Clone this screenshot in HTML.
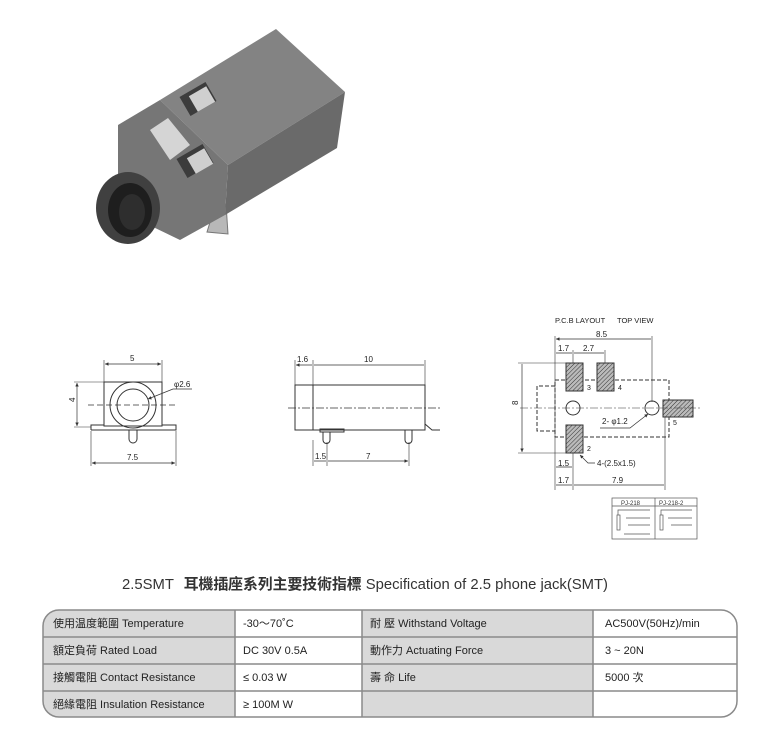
<!DOCTYPE html>
<html><head><meta charset="utf-8"><style>
body{margin:0;background:#fff;width:778px;height:739px;overflow:hidden;font-family:"Liberation Sans","Noto Sans CJK TC",sans-serif}
svg{position:absolute;left:0;top:0}
</style></head><body>
<svg width="778" height="739" viewBox="0 0 778 739" xmlns="http://www.w3.org/2000/svg" font-family="Liberation Sans, Noto Sans CJK TC, sans-serif">
<defs>
<pattern id="h" width="3" height="3" patternUnits="userSpaceOnUse" patternTransform="rotate(45)"><rect width="3" height="3" fill="#bbb"/><line x1="0" y1="0" x2="0" y2="3" stroke="#333" stroke-width="1"/></pattern>
<marker id="a" viewBox="0 0 6 6" refX="6" refY="3" markerWidth="5" markerHeight="5" orient="auto-start-reverse"><path d="M0,0L6,3L0,6z" fill="#333"/></marker>
</defs>
<!-- photo -->
<g>
<polygon points="207,232 215,206 226,204 228,234" fill="#b8b8b8" stroke="#777"/>
<polygon points="160,100 276,29 345,92 228,165" fill="#838383"/>
<polygon points="228,165 345,92 337,148 225,215" fill="#6a6a6a"/>
<polygon points="118,125 160,100 228,165 225,215 180,240 118,210" fill="#767676"/>
<polygon points="150,130 168,118 190,145 170,160" fill="#d5d5d5"/>
<rect x="183" y="88" width="30" height="22" fill="#3c3c3c" transform="rotate(-30 198 99)"/>
<rect x="192" y="90" width="20" height="18" fill="#cfcfcf" transform="rotate(-30 202 99)"/>
<rect x="180" y="150" width="30" height="22" fill="#3c3c3c" transform="rotate(-30 195 161)"/>
<rect x="190" y="152" width="20" height="18" fill="#cfcfcf" transform="rotate(-30 200 161)"/>
<ellipse cx="128" cy="208" rx="32" ry="36" fill="#404040"/>
<ellipse cx="130" cy="210" rx="22" ry="27" fill="#1e1e1e"/>
<ellipse cx="132" cy="212" rx="13" ry="18" fill="#2e2e2e"/>
</g>
<!-- front view -->
<g stroke="#333" stroke-width="1" fill="none">
<rect x="104" y="382" width="58" height="44" fill="#fff"/>
<path d="M91,430 L91,425 L104,425 M162,425 L176,425 L176,430 L91,430"/>
<circle cx="133" cy="405" r="23"/><circle cx="133" cy="405" r="16"/>
<path d="M129,430 V439 a4,4 0 0 0 8,0 V430"/>
<path d="M88,405 H175" stroke-dasharray="6,3" stroke-width=".7"/>
<path d="M104,382 V360 M162,382 V360 M91,431 V466 M176,431 V466 M104,382 H74 M91,427 H74" stroke-width=".6"/>
<path d="M105,364 H161" marker-start="url(#a)" marker-end="url(#a)" stroke-width=".7"/>
<path d="M92,463 H175" marker-start="url(#a)" marker-end="url(#a)" stroke-width=".7"/>
<path d="M77,383 V426" marker-start="url(#a)" marker-end="url(#a)" stroke-width=".7"/>
<path d="M192,389 H173 L148,399" marker-end="url(#a)" stroke-width=".7"/>
</g>
<g font-size="8" fill="#222">
<text x="130" y="361">5</text><text x="127" y="460">7.5</text>
<text x="174" y="387">φ2.6</text>
<text x="75" y="408" transform="rotate(-90 72 405)">4</text>
</g>
<!-- side view -->
<g stroke="#333" stroke-width="1" fill="none">
<rect x="295" y="385" width="130" height="45" fill="#fff"/>
<line x1="313" y1="385" x2="313" y2="430"/>
<path d="M425,424 L432,430 H440"/>
<rect x="320" y="429" width="24" height="3"/>
<path d="M323,432 V440 a3.5,3.5 0 0 0 7,0 V432 M405,430 V440 a3.5,3.5 0 0 0 7,0 V430"/>
<path d="M288,408 H440" stroke-dasharray="8,2,2,2" stroke-width=".7"/>
<path d="M295,385 V360 M313,385 V360 M425,385 V360 M313,440 V466 M327,442 V466 M409,442 V466" stroke-width=".6"/>
<path d="M296,365 H312 M314,365 H424 M314,461 H326 M328,461 H408" marker-start="url(#a)" marker-end="url(#a)" stroke-width=".7"/>
</g>
<g font-size="8" fill="#222">
<text x="297" y="362">1.6</text><text x="364" y="362">10</text>
<text x="315" y="459">1.5</text><text x="366" y="459">7</text>
</g>
<!-- PCB -->
<g font-size="7.5" fill="#222"><text x="555" y="323">P.C.B LAYOUT</text><text x="617" y="323">TOP VIEW</text></g>
<g stroke="#333" stroke-width="1" fill="none">
<path d="M555,380 H669 V437 H555 Z" stroke-dasharray="4,2"/>
<path d="M555,386 H537 V431 H555" stroke-dasharray="4,2"/>
<circle cx="573" cy="408" r="7" fill="#fff"/><circle cx="652" cy="408" r="7" fill="#fff"/>
<rect x="566" y="363" width="17" height="28" fill="url(#h)"/>
<rect x="597" y="363" width="17" height="28" fill="url(#h)"/>
<rect x="566" y="425" width="17" height="28" fill="url(#h)"/>
<rect x="663" y="400" width="30" height="17" fill="url(#h)"/>
<path d="M520,408 H700" stroke-dasharray="8,2,2,2" stroke-width=".6"/>
<path d="M555,336 V490 M652,336 V402 M665,417 V490 M573,350 V363 M605,350 V363 M573,453 V490 M518,363 H566 M518,453 H566" stroke-width=".6"/>
<path d="M556,339 H651 M556,353 H572 M574,353 H604 M556,467 H572 M556,485 H572 M574,485 H664 M522,364 V452" marker-start="url(#a)" marker-end="url(#a)" stroke-width=".7"/>
<path d="M600,428 H630 L648,414" marker-end="url(#a)" stroke-width=".7"/>
<path d="M595,463 H588 L580,455" marker-end="url(#a)" stroke-width=".7"/>
</g>
<g font-size="8" fill="#222">
<text x="596" y="337">8.5</text><text x="558" y="351">1.7</text><text x="583" y="351">2.7</text>
<text x="587" y="390" font-size="7">3</text><text x="618" y="390" font-size="7">4</text><text x="673" y="425" font-size="7">5</text><text x="587" y="451" font-size="7">2</text>
<text x="602" y="424">2- φ1.2</text><text x="597" y="466">4-(2.5x1.5)</text>
<text x="558" y="466">1.5</text><text x="558" y="483">1.7</text><text x="612" y="483">7.9</text>
<text x="518" y="411" transform="rotate(-90 515 408)">8</text>
</g>
<g stroke="#555" stroke-width=".7" fill="none">
<rect x="612" y="498" width="85" height="41"/><path d="M612,506 H697 M655,498 V539"/>
<rect x="617" y="515" width="3" height="15"/><rect x="660" y="515" width="3" height="15"/>
<path d="M618,515 V510 H650 M626,518 H650 M628,525 H650 M624,534 H650 M661,515 V510 H692 M668,518 H692 M671,525 H692"/>
</g>
<g font-size="6" fill="#333"><text x="621" y="505">PJ-218</text><text x="659" y="505">PJ-218-2</text></g>
<!-- title -->
<text x="122" y="589" font-size="15" fill="#333" textLength="486" lengthAdjust="spacingAndGlyphs">2.5SMT <tspan font-weight="bold" dx="6">耳機插座系列主要技術指標</tspan> Specification of 2.5 phone jack(SMT)</text>
<!-- table -->
<clipPath id="tc"><rect x="43" y="610" width="694" height="107" rx="16"/></clipPath>
<g clip-path="url(#tc)">
<rect x="43" y="610" width="694" height="107" fill="#fff"/>
<rect x="43" y="610" width="192" height="107" fill="#d9d9d9"/>
<rect x="362" y="610" width="231" height="107" fill="#d9d9d9"/>
</g>
<g stroke="#8a8a8a" stroke-width="1.5" fill="none">
<rect x="43" y="610" width="694" height="107" rx="16"/>
<path d="M43,637 H737 M43,664 H737 M43,691 H737 M235,610 V717 M362,610 V717 M593,610 V717"/>
</g>
<g font-size="11" fill="#222">
<text x="53" y="627">使用温度範圍 Temperature</text>
<text x="53" y="654">額定負荷  Rated Load</text>
<text x="53" y="681">接觸電阻  Contact Resistance</text>
<text x="53" y="708">絕緣電阻  Insulation Resistance</text>
<text x="243" y="627">-30～70˚C</text>
<text x="243" y="654">DC  30V  0.5A</text>
<text x="243" y="681">≤ 0.03 W</text>
<text x="243" y="708">≥ 100M W</text>
<text x="370" y="627">耐   壓  Withstand Voltage</text>
<text x="370" y="654">動作力 Actuating Force</text>
<text x="370" y="681">壽   命  Life</text>
<text x="605" y="627">AC500V(50Hz)/min</text>
<text x="605" y="654">3 ~ 20N</text>
<text x="605" y="681">5000 次</text>
</g>
</svg>
</body></html>
